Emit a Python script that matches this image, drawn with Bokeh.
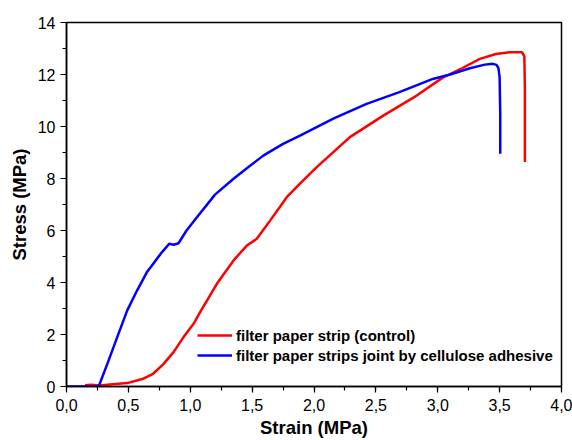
from bokeh.plotting import figure
from bokeh.models import Range1d, SingleIntervalTicker, CustomJSTickFormatter, Legend, LegendItem
from bokeh.embed import file_html
from bokeh.resources import INLINE

# Data
red_x = [0.15, 0.2, 0.27, 0.35, 0.49, 0.62, 0.70, 0.785, 0.865, 0.946, 1.027, 1.08, 1.215, 1.35, 1.457, 1.538,
         1.645, 1.78, 1.887, 2.02, 2.29, 2.56, 2.83, 3.04, 3.2, 3.34, 3.47, 3.58, 3.68, 3.70, 3.704, 3.704]
red_y = [0.05, 0.07, 0.04, 0.08, 0.13, 0.3, 0.49, 0.87, 1.32, 1.9, 2.41, 2.86, 3.95, 4.85, 5.42, 5.68,
         6.38, 7.28, 7.8, 8.43, 9.59, 10.42, 11.19, 11.88, 12.25, 12.6, 12.79, 12.86, 12.86, 12.7, 11.5, 8.63]

blue_x = [0, 0.26, 0.33, 0.41, 0.49, 0.57, 0.65, 0.68, 0.76, 0.83, 0.865, 0.905, 0.97, 1.054, 1.2, 1.35,
          1.47, 1.59, 1.75, 1.887, 2.156, 2.425, 2.69, 2.96, 3.1, 3.26, 3.38, 3.446, 3.475, 3.49, 3.50, 3.505, 3.505]
blue_y = [0, 0, 0.87, 1.9, 2.92, 3.69, 4.4, 4.59, 5.1, 5.49, 5.45, 5.51, 6.0, 6.51, 7.38, 7.99,
          8.44, 8.88, 9.33, 9.65, 10.3, 10.87, 11.32, 11.83, 12.0, 12.24, 12.38, 12.41, 12.37, 12.25, 11.9, 10.5, 8.95]

red_label = "filter paper strip (control)"
blue_label = "filter paper strips joint by cellulose adhesive"

FONT = "Liberation Sans"

p = figure(width=572, height=440, output_backend="svg", toolbar_location=None,
           x_range=Range1d(0, 4), y_range=Range1d(0, 14),
           min_border_left=66, min_border_right=11, min_border_top=22, min_border_bottom=54)

p.xgrid.visible = False
p.ygrid.visible = False
p.background_fill_color = "white"
p.outline_line_color = "black"
p.outline_line_width = 1.5
p.outline_line_alpha = 1

r_red = p.line(red_x, red_y, line_color="#ff0000", line_width=2.5)
r_blue = p.line(blue_x, blue_y, line_color="#0000ff", line_width=2.5)

p.xaxis.ticker = SingleIntervalTicker(interval=0.5, num_minor_ticks=2)
p.yaxis.ticker = SingleIntervalTicker(interval=2, num_minor_ticks=2)
p.xaxis.formatter = CustomJSTickFormatter(code="return tick.toFixed(1).replace('.', ',');")
p.yaxis.formatter = CustomJSTickFormatter(code="return tick.toFixed(0);")

for ax in (p.xaxis, p.yaxis):
    ax.axis_line_color = "black"
    ax.axis_line_width = 1.5
    ax.major_tick_in = 0
    ax.major_tick_out = 6
    ax.minor_tick_in = 0
    ax.minor_tick_out = 4
    ax.major_tick_line_width = 1.2
    ax.minor_tick_line_width = 1.2
    ax.major_label_text_font = FONT
    ax.major_label_text_font_size = "16px"
    ax.major_label_text_color = "black"
    ax.axis_label_text_font = FONT
    ax.axis_label_text_font_size = "18.5px"
    ax.axis_label_text_font_style = "bold"
    ax.axis_label_text_color = "black"

p.xaxis.axis_label = "Strain (MPa)"
p.yaxis.axis_label = "Stress (MPa)"
p.xaxis.major_label_standoff = 6
p.xaxis.axis_label_standoff = 3
p.yaxis.major_label_standoff = 5
p.yaxis.axis_label_standoff = 5

legend = Legend(items=[LegendItem(label=red_label, renderers=[r_red]),
                       LegendItem(label=blue_label, renderers=[r_blue])],
                location=(131, 21))
legend.border_line_color = None
legend.background_fill_alpha = 0
legend.padding = 0
legend.margin = 0
legend.spacing = 0
legend.glyph_width = 35
legend.glyph_height = 20
legend.label_height = 20
legend.label_standoff = 4
legend.label_text_font = FONT
legend.label_text_font_size = "15px"
legend.label_text_font_style = "bold"
legend.label_text_color = "black"
p.add_layout(legend, "center")

open("out.html", "w").write(file_html(p, INLINE))
